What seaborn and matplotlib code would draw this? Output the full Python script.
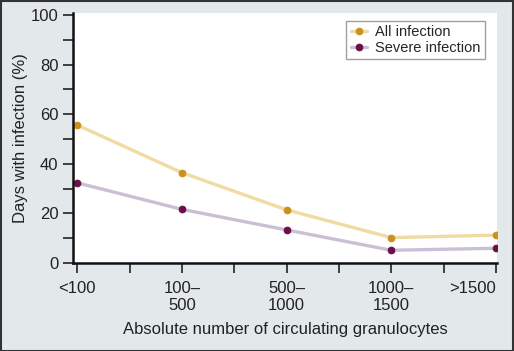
import matplotlib
matplotlib.use("Agg")
import matplotlib.pyplot as plt
import seaborn as sns
from matplotlib.patches import Rectangle
from matplotlib.ticker import MultipleLocator
from matplotlib.transforms import offset_copy

# Data
categories = ["<100", "100–\n500", "500–\n1000", "1000–\n1500", ">1500"]
all_infection = [55.6, 36.4, 21.4, 10.2, 11.2]
severe_infection = [32.3, 21.6, 13.3, 5.1, 5.9]
positions = list(range(len(categories)))

sns.set_style("ticks")
plt.rcParams['font.family'] = ['Liberation Sans', 'DejaVu Sans']

bg = "#e3e8ea"
fig = plt.figure(figsize=(5.14, 3.51), dpi=100, facecolor=bg)
ax = fig.add_axes([0.142, 0.251, 0.825, 0.712])
ax.set_facecolor("white")

# All infection: pale gold line, darker gold dots
sns.lineplot(x=positions, y=all_infection, ax=ax, color="#f0dba3", linewidth=2.4,
             marker="o", markersize=4.8, markerfacecolor="#c9921f",
             markeredgecolor="#c9921f", label="All infection")
# Severe infection: lavender line, dark purple dots
sns.lineplot(x=positions, y=severe_infection, ax=ax, color="#cbbfd6", linewidth=2.4,
             marker="o", markersize=4.8, markerfacecolor="#6b0f49",
             markeredgecolor="#6b0f49", label="Severe infection")

ax.set_xlim(-0.04, 4.01)
ax.set_ylim(0, 100.8)
ax.set_xticks(positions)
ax.set_xticklabels(categories, fontsize=12, linespacing=1.2)
# last label sits left of its tick so it stays inside the figure
last = ax.get_xticklabels()[-1]
last.set_horizontalalignment("right")
last.set_transform(offset_copy(last.get_transform(), fig=fig, x=3, y=0, units="dots"))
ax.xaxis.set_minor_locator(MultipleLocator(0.5))
ax.yaxis.set_major_locator(MultipleLocator(20))
ax.yaxis.set_minor_locator(MultipleLocator(10))
ax.tick_params(axis="both", which="major", length=7, width=1.2, color="#222222",
               labelsize=12, labelcolor="#222222")
ax.tick_params(axis="both", which="minor", length=7, width=1.2, color="#222222")
ax.tick_params(axis="x", pad=6)

for side in ["top", "right"]:
    ax.spines[side].set_visible(False)
for side in ["left", "bottom"]:
    ax.spines[side].set_linewidth(1.8)
    ax.spines[side].set_color("#111111")

ax.set_xlabel("Absolute number of circulating granulocytes", fontsize=12,
              color="#222222", labelpad=6)
ax.set_ylabel("Days with infection (%)", fontsize=12, color="#222222", labelpad=2)

leg = ax.legend(loc="upper right", bbox_to_anchor=(0.972, 0.968), fontsize=10.5,
                frameon=True, fancybox=False, handlelength=1.15, handletextpad=0.55,
                borderpad=0.3, labelspacing=0.12, borderaxespad=0)
leg.get_frame().set_edgecolor("#888888")
leg.get_frame().set_linewidth(1.0)

# dark frame around the whole figure
fig.patches.append(Rectangle((0.001, 0.001), 0.998, 0.997, transform=fig.transFigure,
                             fill=False, edgecolor="#333333", linewidth=1.5))

fig.savefig("out.png", dpi=100, facecolor=bg)
